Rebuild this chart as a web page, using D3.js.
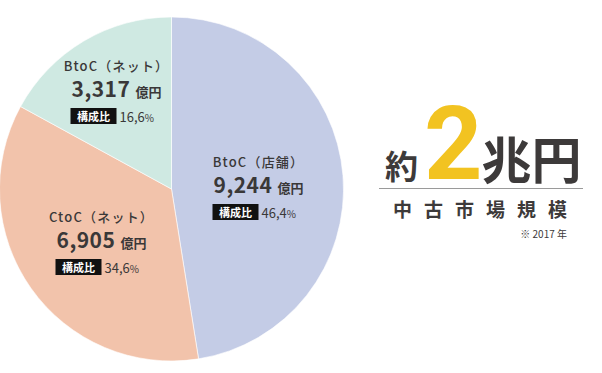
<!DOCTYPE html>
<html>
<head>
<meta charset="utf-8">
<script src="https://cdn.jsdelivr.net/npm/d3@7"></script>
<style>
  body { margin: 0; background: #fff; }
  svg { display: block; font-family: "Noto Sans CJK JP", "Noto Sans", sans-serif; }
</style>
</head>
<body>
<script>
// segments (clockwise from 12 o'clock)
const names = ['BtoC（店舗）', 'CtoC（ネット）', 'BtoC（ネット）']
const values = [9244, 6905, 3317]
const shares = ['46,4', '34,6', '16,6']
const colors = ['#c4cce6', '#f2c3ab', '#cfe9e2']

const width = 602, height = 373
const cx = 171.5, cy = 189, radius = 172

let svg = d3.select('body').append('svg')
    .attr('width', width)
    .attr('height', height)

let pie = d3.pie().sort(null).value(d => d)
let arcs = pie(values)

let arc = d3.arc().innerRadius(0).outerRadius(radius)

let g = svg.append('g').attr('transform', `translate(${cx},${cy})`)

g.selectAll('path')
    .data(arcs)
    .enter()
    .append('path')
    .attr('d', arc)
    .attr('fill', (d, i) => colors[i])
    .attr('stroke', '#fff')
    .attr('stroke-width', 0.6)

// label anchors (center of each text block), relative to the pie center
const labelPos = [[87, -22], [-70, 33], [-55, -118]]

let labels = g.selectAll('.label')
    .data(arcs)
    .enter()
    .append('g')
    .attr('class', 'label')
    .attr('transform', (d, i) => `translate(${labelPos[i][0]},${labelPos[i][1]})`)

labels.append('text')
    .attr('x', 0)
    .attr('y', 0)
    .attr('text-anchor', 'middle')
    .attr('font-size', 13)
    .attr('font-weight', 500)
    .attr('letter-spacing', 1.2)
    .attr('fill', '#3a3838')
    .text((d, i) => names[i])

let num = labels.append('text')
    .attr('x', -45)
    .attr('y', 26)
    .attr('fill', '#3a3838')
num.append('tspan')
    .attr('font-size', 21)
    .attr('font-weight', 700)
    .attr('letter-spacing', 0.5)
    .text(d => d3.format(',')(d.value))
num.append('tspan')
    .attr('dx', 5)
    .attr('font-size', 13)
    .attr('font-weight', 700)
    .text('億円')

labels.append('rect')
    .attr('x', -46)
    .attr('y', 37)
    .attr('width', 46)
    .attr('height', 16)
    .attr('fill', '#111')

labels.append('text')
    .attr('x', -23)
    .attr('y', 49.5)
    .attr('text-anchor', 'middle')
    .attr('font-size', 11)
    .attr('font-weight', 700)
    .attr('fill', '#fff')
    .text('構成比')

let pct = labels.append('text')
    .attr('x', 3)
    .attr('y', 51)
    .attr('fill', '#3a3838')
pct.append('tspan')
    .attr('font-size', 13)
    .text((d, i) => shares[i])
pct.append('tspan')
    .attr('font-size', 10)
    .text('%')

// headline on the right
let head = svg.append('text')
    .attr('x', 385)
    .attr('y', 179)
    .attr('fill', '#3d3a3a')
    .attr('font-weight', 700)
head.append('tspan')
    .attr('font-size', 33)
    .text('約')
head.append('tspan')
    .attr('dx', 6)
    .attr('font-size', 102)
    .attr('font-family', 'Roboto, sans-serif')
    .attr('fill', '#f2c321')
    .attr('letter-spacing', -2)
    .text('2')
head.append('tspan')
    .attr('dx', 1)
    .attr('font-size', 50)
    .text('兆円')

svg.append('line')
    .attr('x1', 379)
    .attr('x2', 583)
    .attr('y1', 188.5)
    .attr('y2', 188.5)
    .attr('stroke', '#9a9a9a')
    .attr('stroke-width', 1)

svg.append('text')
    .attr('x', 393)
    .attr('y', 217)
    .attr('font-size', 19)
    .attr('font-weight', 700)
    .attr('letter-spacing', 12)
    .attr('fill', '#3d3a3a')
    .text('中古市場規模')

svg.append('text')
    .attr('x', 567)
    .attr('y', 238)
    .attr('text-anchor', 'end')
    .attr('font-size', 10)
    .attr('fill', '#3d3a3a')
    .text('※ 2017 年')
</script>
</body>
</html>
